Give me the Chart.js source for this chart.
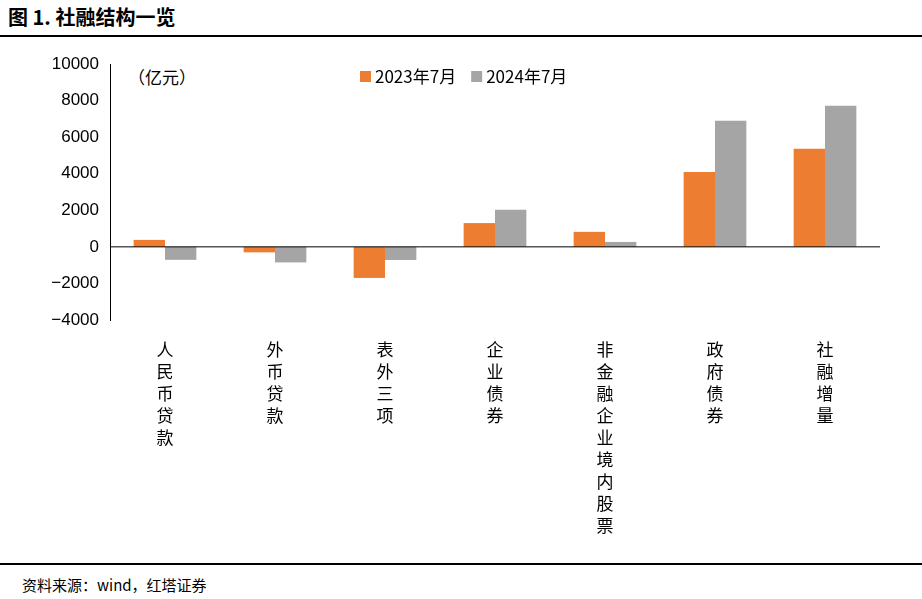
<!DOCTYPE html>
<html><head><meta charset="utf-8">
<script src="https://cdn.jsdelivr.net/npm/chart.js@4"></script>
<style>
body{margin:0;width:922px;height:599px;background:#fff;font-family:"Noto Sans CJK SC",sans-serif;position:relative;overflow:hidden}
#title{position:absolute;left:8px;top:2px;font-size:20px;font-weight:bold;color:#000}
#l1{position:absolute;left:0;top:35px;width:922px;height:2px;background:#000}
#l2{position:absolute;left:0;top:563px;width:922px;height:2px;background:#000}
#src{position:absolute;left:22px;top:574px;font-size:15px}
#unit{position:absolute;left:128px;top:64px;font-size:17px}
#wrap{position:absolute;left:0;top:40px;width:922px;height:520px}
</style></head><body>
<div id="title">图 1. 社融结构一览</div><div id="l1"></div>
<div id="unit">（亿元）</div>
<div id="wrap"><canvas id="c"></canvas></div>
<div id="l2"></div>
<div id="src">资料来源：wind，红塔证券</div>
<script>
const categories=["人民币贷款","外币贷款","表外三项","企业债券","非金融企业境内股票","政府债券","社融增量"];
const seriesNames=["2023年7月","2024年7月"];
const values2023=[380,-300,-1700,1300,820,4100,5370];
const values2024=[-710,-850,-720,2030,270,6900,7710];
const colors=["#ED7D31","#A5A5A5"];
const plug={id:'p',afterDatasetsDraw(ch){const c=ch.ctx,y=ch.scales.y.getPixelForValue(0);
c.save();c.strokeStyle='#000';c.lineWidth=1;c.beginPath();c.moveTo(ch.chartArea.left,y);c.lineTo(ch.chartArea.right,y);c.stroke();
c.font='17px "Noto Sans CJK SC"';c.textBaseline='middle';let x=360;
ch.data.datasets.forEach(d=>{c.fillStyle=d.backgroundColor;c.fillRect(x,31,11,11);c.fillStyle='#000';c.fillText(d.label,x+15,37);x+=c.measureText(d.label).width+30;});c.restore();}};
new Chart(document.getElementById('c'),{type:'bar',
data:{labels:categories.map(s=>s.split('')),datasets:[
{label:seriesNames[0],data:values2023,backgroundColor:colors[0]},
{label:seriesNames[1],data:values2024,backgroundColor:colors[1]}]},
options:{responsive:true,maintainAspectRatio:false,animation:false,
layout:{padding:{left:0,right:42,top:24,bottom:0}},
datasets:{bar:{categoryPercentage:0.57,barPercentage:1}},
plugins:{legend:{display:false},tooltip:{enabled:false}},
scales:{x:{grid:{display:false},border:{display:false},ticks:{color:'#000',maxRotation:0,font:{size:17,family:'"Noto Sans CJK SC"',lineHeight:1.3},padding:10},afterFit(s){s.height=240;}},
y:{min:-4000,max:10000,ticks:{stepSize:2000,color:'#000',font:{size:17,family:'Arial'},callback:v=>(v<0?'\u2212'+(-v):String(v))},grid:{display:false,drawTicks:true},border:{color:'#000'},afterFit(s){s.width=110;}}}},
plugins:[plug]});
</script></body></html>
